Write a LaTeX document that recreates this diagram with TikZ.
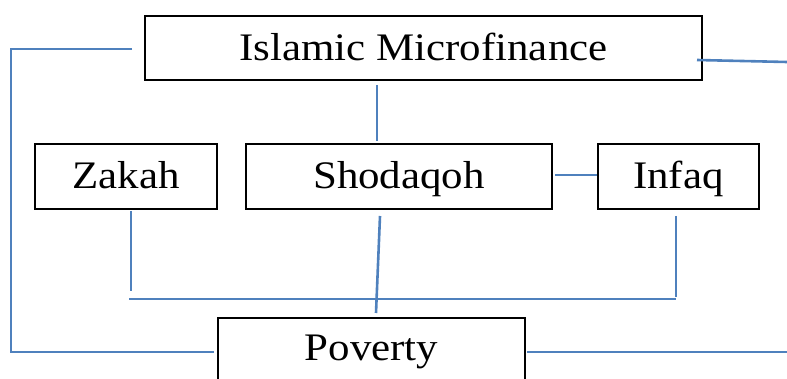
\documentclass[tikz,border=0pt]{standalone}
\usepackage{fontspec}
\setmainfont[FakeStretch=1.1]{Liberation Serif}
\definecolor{linkblue}{RGB}{79,129,189}
\begin{document}
\begin{tikzpicture}[x=1pt, y=-1pt, every node/.style={draw=black, line width=1.6pt, inner sep=0pt, minimum height=65pt, text height=25pt, text depth=0pt, font=\fontsize{39}{46}\selectfont}]
	\useasboundingbox (0,0) rectangle (787,379);
	\clip (0,0) rectangle (787,379);
	
	\node (1) at (423.5,48) [minimum width=557pt, minimum height=64pt]{Islamic Microfinance};
	\node (2) at (126,176.5) [minimum width=182pt]{Zakah};
	\node (3) at (399,176.5) [minimum width=306pt]{Shodaqoh};
	\node (4) at (678.5,176.5) [minimum width=161pt]{Infaq};
	\node (5) at (371.5,350.5) [minimum width=307pt, text depth=5pt]{Poverty};
	
	% free ends of the connectors
	\coordinate (a) at (132,49);
	\coordinate (b) at (11,49);
	\coordinate (c) at (11,352);
	\coordinate (d) at (214,352);
	\coordinate (e) at (697,60);
	\coordinate (f) at (787,62);
	\coordinate (g) at (527,352);
	\coordinate (h) at (787,352);
	\coordinate (i) at (377,85);
	\coordinate (j) at (377,141);
	\coordinate (k) at (555,175);
	\coordinate (l) at (597,175);
	\coordinate (m) at (131,211);
	\coordinate (n) at (131,291);
	\coordinate (o) at (676,216);
	\coordinate (p) at (676,297);
	\coordinate (q) at (129,299);
	\coordinate (r) at (676,299);
	\coordinate (s) at (380,216);
	\coordinate (t) at (376,313);
	
	\begin{scope}[draw=linkblue, line width=2.6pt]
	\draw (a) -- (b) -- (c) -- (d);
	\draw (e) -- (f);
	\draw (g) -- (h);
	\draw (i) -- (j);
	\draw (k) -- (l);
	\draw (m) -- (n);
	\draw (o) -- (p);
	\draw (q) -- (r);
	\draw (s) -- (t);
	\end{scope}
	
\end{tikzpicture}
\end{document}
